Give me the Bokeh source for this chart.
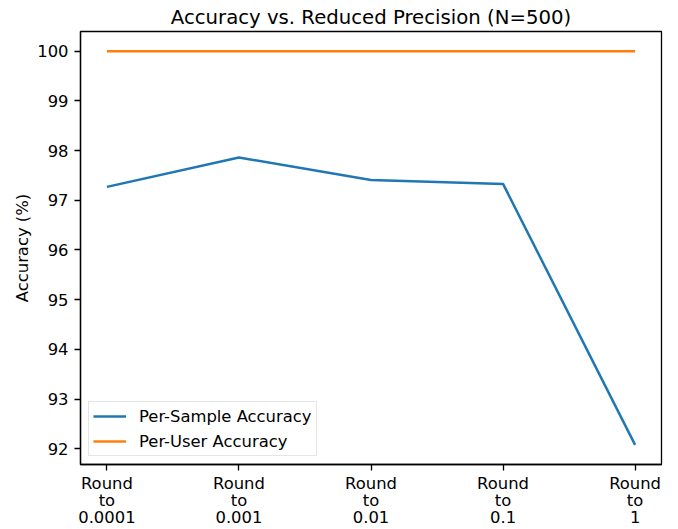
from bokeh.plotting import figure
from bokeh.models import Range1d, FixedTicker, Legend, LegendItem
from bokeh.embed import file_html
from bokeh.resources import INLINE

# ---- data ----
precisions = ["0.0001", "0.001", "0.01", "0.1", "1"]
tick_labels = ["Round\nto\n" + s for s in precisions]
per_sample = [97.27, 97.86, 97.41, 97.33, 92.08]
per_user = [100.0, 100.0, 100.0, 100.0, 100.0]
y_ticks = [92, 93, 94, 95, 96, 97, 98, 99, 100]
title_text = "Accuracy vs. Reduced Precision (N=500)"

FONT = "DejaVu Sans"
TICK_PX = "16.4px"
xs = list(range(len(precisions)))

ymin = min(per_sample + per_user)
ymax = max(per_sample + per_user)
pad = (ymax - ymin) * 0.05

FW, FH = 581, 433

p = figure(
    output_backend="svg",
    toolbar_location=None,
    frame_width=FW,
    frame_height=FH,
    min_border_left=80,
    min_border_right=16,
    min_border_top=31,
    min_border_bottom=65,
    x_range=Range1d(-0.2, len(xs) - 1 + 0.2),
    y_range=Range1d(ymin - pad, ymax + pad),
    title=title_text,
)
p.background_fill_color = "white"
p.border_fill_color = "white"
p.outline_line_color = "black"
p.outline_line_width = 1.3
p.grid.visible = False

p.title.text_font = FONT
p.title.text_font_size = "19.7px"
p.title.text_font_style = "normal"
p.title.text_color = "black"
p.title.align = "center"
p.title.standoff = 5

for ax in (p.xaxis[0], p.yaxis[0]):
    ax.major_label_text_font = FONT
    ax.major_label_text_font_size = TICK_PX
    ax.major_label_text_color = "black"
    ax.major_tick_out = 6
    ax.major_tick_in = 0
    ax.minor_tick_out = 0
    ax.minor_tick_in = 0
    ax.axis_line_color = "black"
    ax.axis_line_width = 1.3
    ax.major_tick_line_width = 1.3
    ax.major_label_standoff = 6

p.xaxis.ticker = FixedTicker(ticks=xs)
p.xaxis.major_label_overrides = {i: lbl for i, lbl in zip(xs, tick_labels)}
p.xaxis.major_label_standoff = 3
p.xaxis.major_label_text_line_height = 0.9

p.yaxis.ticker = FixedTicker(ticks=y_ticks)
p.yaxis.axis_label = "Accuracy (%)"
p.yaxis.axis_label_text_font = FONT
p.yaxis.axis_label_text_font_size = TICK_PX
p.yaxis.axis_label_text_font_style = "normal"
p.yaxis.axis_label_text_color = "black"
p.yaxis.axis_label_standoff = 2

r1 = p.line(xs, per_sample, line_color="#1f77b4", line_width=2.5)
r2 = p.line(xs, per_user, line_color="#ff7f0e", line_width=2.5)

legend = Legend(
    items=[
        LegendItem(label="Per-Sample Accuracy", renderers=[r1]),
        LegendItem(label="Per-User Accuracy", renderers=[r2]),
    ],
    location="bottom_left",
)
legend.label_text_font = FONT
legend.label_text_font_size = TICK_PX
legend.label_text_color = "black"
legend.border_line_color = "#cccccc"
legend.border_line_width = 1
legend.background_fill_alpha = 0.8
legend.margin = 8
legend.padding = 4
legend.spacing = 5
legend.glyph_width = 33
legend.glyph_height = 20
legend.label_standoff = 13
legend.label_height = 20
p.add_layout(legend)

open("out.html", "w").write(file_html(p, INLINE))
